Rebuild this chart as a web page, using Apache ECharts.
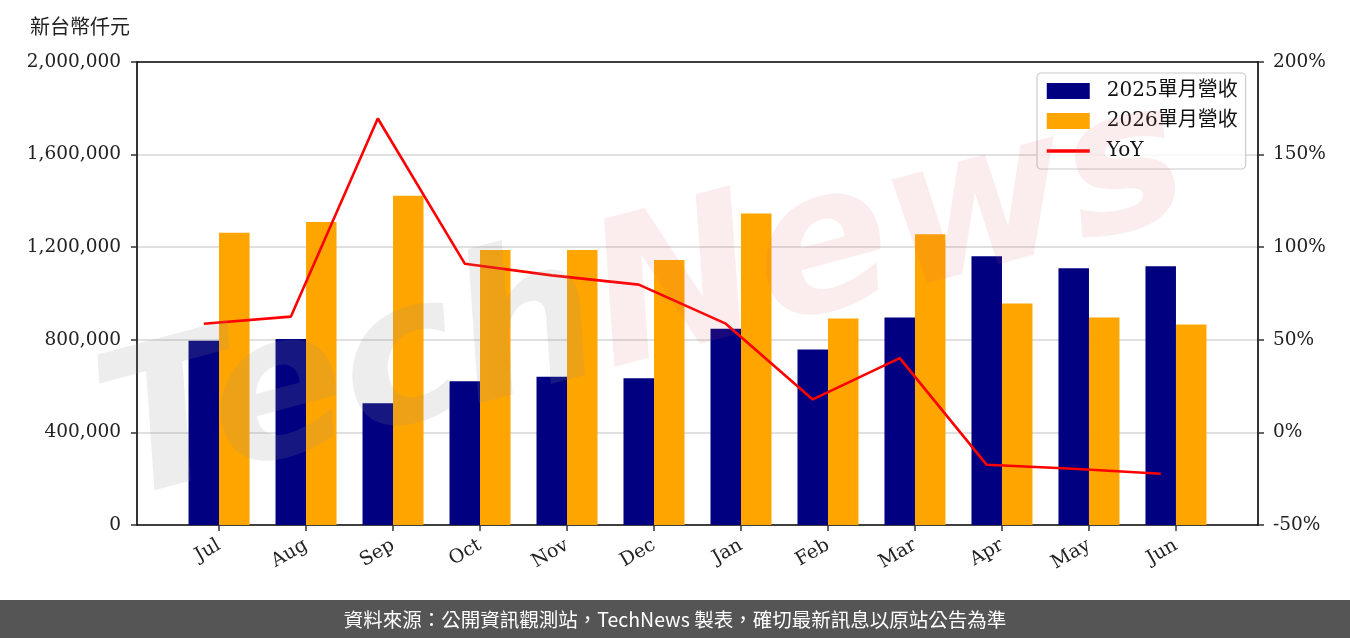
<!DOCTYPE html>
<html lang="zh-TW">
<head>
<meta charset="utf-8">
<script src="https://cdn.jsdelivr.net/npm/echarts@6/dist/echarts.min.js"></script>
<style>
  html, body { margin: 0; padding: 0; background: #fff; }
  #chart { width: 1350px; height: 638px; }
</style>
</head>
<body>
<div id="chart" lang="zh-TW"></div>
<script>
// 月份 & 數據
const months = ['Jul', 'Aug', 'Sep', 'Oct', 'Nov', 'Dec', 'Jan', 'Feb', 'Mar', 'Apr', 'May', 'Jun'];
const rev2025 = [796000, 803000, 526000, 621000, 640000, 634000, 848000, 758000, 896000, 1161000, 1109000, 1118000];
const rev2026 = [1262000, 1309000, 1422000, 1188000, 1188000, 1145000, 1346000, 892000, 1256000, 957000, 896000, 866000];
const yoy = [58.7, 62.5, 169.5, 91.1, 84.8, 79.8, 58.7, 17.8, 40.1, -17.5, -19.6, -22.3];

const serif = 'DejaVu Serif, Noto Sans CJK TC, serif';
const barW = 30.5;
const lineShift = 0.175; // 折線畫在藍色柱中心

const chart = echarts.init(document.getElementById('chart'));

const axisLine = { show: true, onZero: false, lineStyle: { color: '#000', width: 1.6 } };
const axisTick = { show: true, length: 6, lineStyle: { color: '#333', width: 1.5 } };

const option = {
    animation: false,
    backgroundColor: '#fff',
    grid: {
        left: 137, right: 92, top: 62, bottom: 113
    },
    legend: {
        orient: 'vertical',
        left: 1037, top: 73,
        padding: [8, 8, 8, 8],
        itemGap: 10,
        itemWidth: 43, itemHeight: 16,
        backgroundColor: 'rgba(255,255,255,0.8)',
        borderColor: '#cccccc', borderWidth: 1.2, borderRadius: 4,
        textStyle: { fontFamily: serif, fontSize: 20, color: '#111', padding: [0, 0, 0, 12] },
        data: [
            { name: '2025單月營收', icon: 'rect' },
            { name: '2026單月營收', icon: 'rect' },
            { name: 'YoY', itemStyle: { opacity: 0 }, lineStyle: { width: 3.5 } }
        ]
    },
    xAxis: [
        {
            type: 'value',
            min: -0.943, max: 11.943,
            axisLine: axisLine,
            axisTick: Object.assign({}, axisTick, { customValues: months.map((m, i) => i) }),
            axisLabel: {
                customValues: months.map((m, i) => i),
                formatter: v => months[Math.round(v)] || '',
                rotate: 30, margin: 19,
                fontFamily: serif, fontSize: 19, color: '#222'
            },
            splitLine: { show: false }
        },
        {
            // 上框線
            type: 'value', position: 'top',
            min: -0.943, max: 11.943,
            axisLine: axisLine,
            axisTick: { show: false }, axisLabel: { show: false }, splitLine: { show: false }
        }
    ],
    yAxis: [
        {
            type: 'value', min: 0, max: 2000000, interval: 400000,
            axisLine: axisLine,
            axisTick: axisTick,
            axisLabel: { fontFamily: serif, fontSize: 18.5, color: '#222', margin: 16,
                formatter: v => v.toLocaleString('en-US') },
            splitLine: { show: true, showMinLine: false, showMaxLine: false, lineStyle: { color: '#d6d6d6', width: 1.5 } }
        },
        {
            type: 'value', min: -50, max: 200, interval: 50,
            position: 'right',
            axisLine: axisLine,
            axisTick: axisTick,
            axisLabel: { fontFamily: serif, fontSize: 18.5, color: '#222', margin: 15, formatter: '{value}%' },
            splitLine: { show: false }
        }
    ],
    series: [
        {
            name: '2025單月營收', type: 'bar',
            barWidth: barW, barGap: '0%',
            itemStyle: { color: '#000080' },
            data: rev2025.map((v, i) => [i, v]),
            z: 2
        },
        {
            name: '2026單月營收', type: 'bar',
            barWidth: barW, barGap: '0%',
            itemStyle: { color: '#FFA500' },
            data: rev2026.map((v, i) => [i, v]),
            z: 2
        },
        {
            name: 'YoY', type: 'line', yAxisIndex: 1,
            symbol: 'none',
            lineStyle: { color: '#FF0000', width: 2.6 },
            itemStyle: { color: '#FF0000' },
            data: yoy.map((v, i) => [i - lineShift, v]),
            z: 3
        }
    ],
    graphic: [
        {
            type: 'text', left: 30, top: 16,
            style: { text: '新台幣仟元', fontFamily: 'Noto Sans CJK TC', fontSize: 20, fill: '#222' }
        },
        {
            type: 'text', x: 645, y: 305, rotation: 15 * Math.PI / 180, z: 50,
            style: {
                text: '{a|Tech}{b|News}',
                align: 'center', verticalAlign: 'middle',
                rich: {
                    a: { fontFamily: 'DejaVu Sans', fontSize: 200, fontStyle: 'italic', fontWeight: 'bold', fill: 'rgba(140,140,140,0.16)' },
                    b: { fontFamily: 'DejaVu Sans', fontSize: 200, fontStyle: 'italic', fontWeight: 'bold', fill: 'rgba(215,90,100,0.11)' }
                }
            }
        },
        {
            type: 'rect', left: 0, top: 600, z: 60,
            shape: { width: 1350, height: 38 },
            style: { fill: '#555555' }
        },
        {
            type: 'text', x: 675, y: 620, z: 61,
            style: {
                text: '資料來源：公開資訊觀測站，TechNews 製表，確切最新訊息以原站公告為準',
                fontFamily: 'Noto Sans CJK TC', fontSize: 19.5, fill: '#ffffff',
                align: 'center', verticalAlign: 'middle'
            }
        }
    ]
};

chart.setOption(option);
</script>
</body>
</html>
